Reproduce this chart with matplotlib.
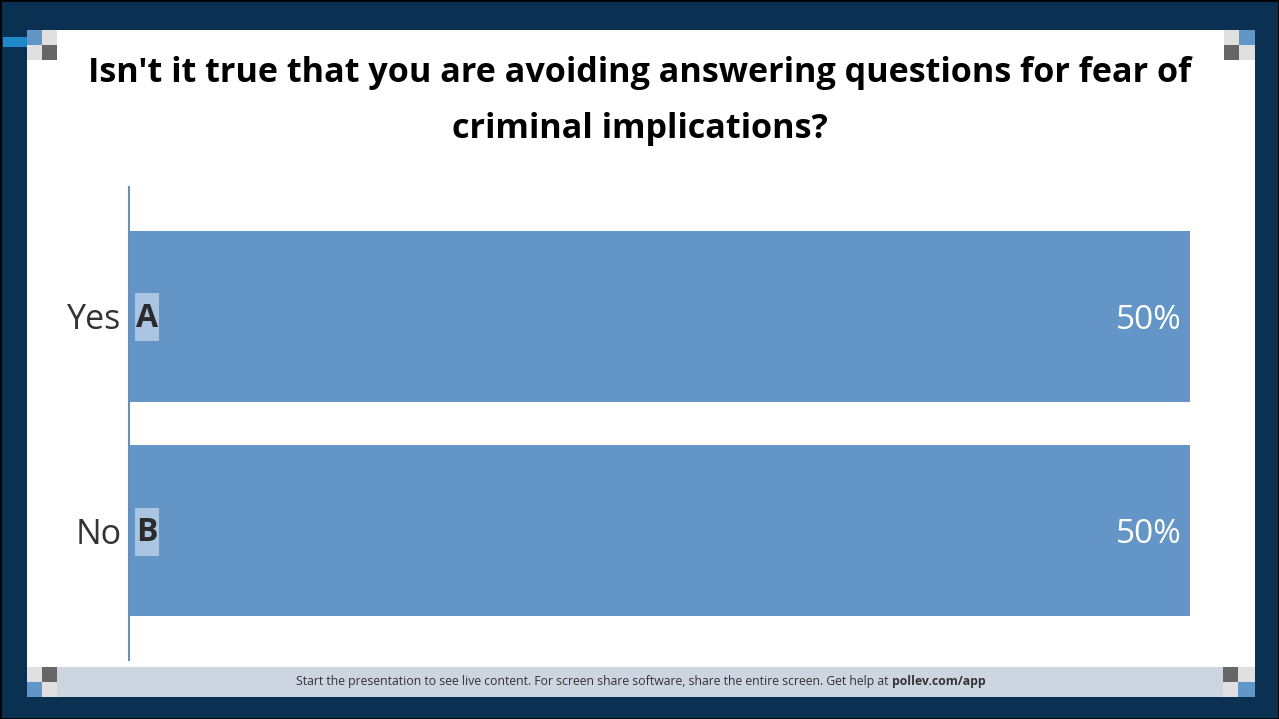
import matplotlib.pyplot as plt
from matplotlib.patches import Rectangle

categories = ['Yes', 'No']
letters = ['A', 'B']
values = [50, 50]
title = "Isn't it true that you are avoiding answering questions for fear of\ncriminal implications?"
footer = 'Start the presentation to see live content. For screen share software, share the entire screen. Get help at'
footer_link = 'pollev.com/app'

navy = '#0b3152'
bar_color = '#6395c6'
W, H = 1279, 719

plt.rcParams['font.family'] = ['Open Sans', 'DejaVu Sans']

fig = plt.figure(figsize=(W / 100, H / 100), dpi=100)
fig.patch.set_facecolor(navy)


def px_rect(x0, y0, x1, y1, color, z=0):
    # rectangle in pixel coords (origin top-left)
    fig.patches.append(Rectangle((x0 / W, 1 - y1 / H), (x1 - x0) / W, (y1 - y0) / H,
                                 transform=fig.transFigure, facecolor=color,
                                 edgecolor='none', zorder=z))


# white panel and footer band
px_rect(27, 30, 1255, 697, 'white')
px_rect(27, 667, 1255, 697, '#cdd5e1', 1)
# thin black outer border
fig.patches.append(Rectangle((0, 0), 1, 1, transform=fig.transFigure, facecolor='none',
                             edgecolor='black', linewidth=2, zorder=5))
# corner decorations
px_rect(3, 37, 27, 47, '#1e88c8', 2)
lg, dg, bl = '#e0e0e0', '#666666', '#6196c8'
px_rect(27, 30, 42, 45, bl, 2); px_rect(42, 30, 57, 45, lg, 2)
px_rect(27, 45, 42, 60, lg, 2); px_rect(42, 45, 57, 60, dg, 2)
px_rect(1224, 30, 1239, 45, lg, 2); px_rect(1239, 30, 1255, 45, bl, 2)
px_rect(1224, 45, 1239, 60, dg, 2); px_rect(1239, 45, 1255, 60, lg, 2)
px_rect(27, 667, 42, 682, lg, 2); px_rect(42, 667, 57, 682, dg, 2)
px_rect(27, 682, 42, 697, bl, 2); px_rect(42, 682, 57, 697, lg, 2)
px_rect(1223, 667, 1238, 682, dg, 2); px_rect(1238, 667, 1255, 682, lg, 2)
px_rect(1223, 682, 1238, 697, lg, 2); px_rect(1238, 682, 1255, 697, bl, 2)

fig.text(640 / W, 1 - 101 / H, title, ha='center', va='center', fontsize=24.6,
         fontweight='bold', color='black', linespacing=1.85, zorder=4)

fig.text(889 / W, 1 - 682 / H, footer, ha='right', va='center', fontsize=8.8,
         color='#333333', zorder=4)
fig.text(892 / W, 1 - 682 / H, footer_link, ha='left', va='center', fontsize=8.8,
         fontweight='bold', color='#333333', zorder=4)

ax = fig.add_axes([129 / W, 59 / H, (1190 - 129) / W, 473 / H])
ax.set_zorder(3)
ax.set_facecolor('none')
y = list(range(len(categories)))
ax.barh(y, values, height=0.8, color=bar_color)
ax.set_xlim(0, max(values))
ax.set_ylim(len(categories) - 1 + 0.605, -0.605)
ax.set_yticks(y)
ax.set_yticklabels(categories, fontsize=24.5, color='#333333')
ax.tick_params(axis='y', length=0, pad=5.5)
ax.set_xticks([])
for s in ['top', 'right', 'bottom']:
    ax.spines[s].set_visible(False)
ax.spines['left'].set_color('#6b8fb5')
ax.spines['left'].set_linewidth(1.5)

# letter badge size: pixels -> data units
xpp = max(values) / ax.bbox.width
ypp = (len(categories) - 1 + 1.21) / ax.bbox.height
for i, (letter, v) in enumerate(zip(letters, values)):
    ax.add_patch(Rectangle((6 * xpp, i - 23 * ypp), 24 * xpp, 48 * ypp,
                           facecolor='#a9c5e2', edgecolor='none', zorder=3))
    ax.text(18 * xpp, i + 2 * ypp, letter, ha='center', va='center', fontsize=23,
            fontweight='bold', color='#2b2b2b', zorder=4)
    ax.annotate(f'{v}%', (v, i), xytext=(-6, 0), textcoords='offset points',
                ha='right', va='center_baseline', fontsize=24, color='white')

fig.savefig('out.png', dpi=100, facecolor=navy)
